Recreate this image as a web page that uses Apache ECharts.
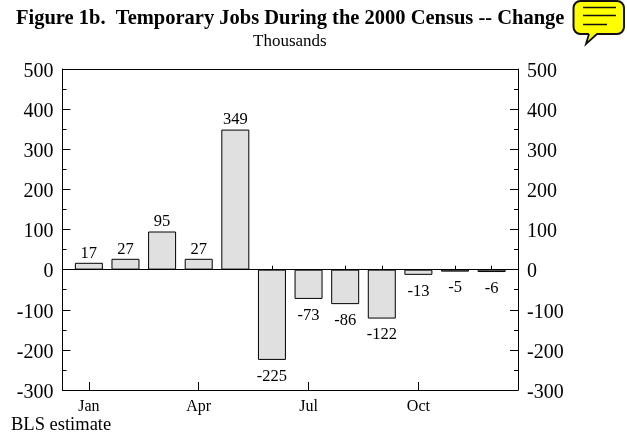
<!DOCTYPE html>
<html>
<head>
<meta charset="utf-8">
<script src="https://cdn.jsdelivr.net/npm/echarts@6/dist/echarts.min.js"></script>
<style>
html,body{margin:0;padding:0;background:#fff;}
#chart{width:627px;height:435px;}
</style>
</head>
<body>
<div id="chart"></div>
<script>
const months = ['Jan','Feb','Mar','Apr','May','Jun','Jul','Aug','Sep','Oct','Nov','Dec'];
const changes = [17,27,95,27,349,-225,-73,-86,-122,-13,-5,-6];
const quarterTicks = [0,3,6,9];
const monthTicks = [1,2,4,5,7,8,10,11];

const serif = '"Liberation Serif","Times New Roman",serif';
const ink = '#000';

let chart = echarts.init(document.getElementById('chart'));

let yCommon = {
  type:'value', min:-300, max:500, interval:100,
  splitLine:{show:false},
  axisLine:{show:true, onZero:false, lineStyle:{color:ink, width:1}},
  axisTick:{show:true, inside:true, length:8, lineStyle:{color:ink, width:1}},
  minorTick:{show:true, splitNumber:2, length:4, lineStyle:{color:ink, width:1}},
  // the reference sets its tick labels slightly below the tick
  axisLabel:{fontFamily:serif, fontSize:20, color:ink, margin:9, verticalAlign:'top', lineHeight:5}
};

let option = {
  animation:false,
  backgroundColor:'#fff',
  grid:{left:62.5, right:109, top:69, bottom:45},
  title:[
    {text:'Figure 1b.  Temporary Jobs During the 2000 Census -- Change', left:11, top:3,
     textStyle:{fontFamily:serif, fontSize:20.5, fontWeight:'bold', color:ink}},
    {text:'Thousands', left:248, top:28,
     textStyle:{fontFamily:serif, fontSize:17, fontWeight:'normal', color:ink}},
    {text:'BLS estimate', left:6, top:411,
     textStyle:{fontFamily:serif, fontSize:18.5, fontWeight:'normal', color:ink}}
  ],
  xAxis:[
    {
      type:'value', min:-0.72, max:11.72, position:'bottom',
      splitLine:{show:false},
      axisLine:{show:true, onZero:false, lineStyle:{color:ink}},
      axisTick:{show:true, inside:true, length:8, customValues:quarterTicks, lineStyle:{color:ink}},
      axisLabel:{show:true, customValues:quarterTicks, fontFamily:serif, fontSize:16, color:ink, margin:9,
        formatter:v => months[v]}
    },
    {
      type:'value', min:-0.72, max:11.72, position:'bottom',
      splitLine:{show:false},
      axisLine:{show:false},
      axisTick:{show:true, inside:true, length:4, customValues:monthTicks, lineStyle:{color:ink}},
      axisLabel:{show:false}
    },
    {
      type:'value', min:-0.72, max:11.72, position:'top',
      splitLine:{show:false},
      axisLine:{show:true, onZero:false, lineStyle:{color:ink}},
      axisTick:{show:false},
      axisLabel:{show:false}
    }
  ],
  yAxis:[
    Object.assign({}, yCommon, {position:'left'}),
    Object.assign({}, yCommon, {position:'right'})
  ],
  series:[{
    type:'bar',
    barWidth:28,
    xAxisIndex:0,
    yAxisIndex:0,
    itemStyle:{color:'#e0e0e0', borderColor:ink, borderWidth:1},
    data:changes.map((v,i) => ({
      value:[i,v],
      label:{show:true, position:v<0?'bottom':'top', distance:v<0?8:1,
        fontFamily:serif, fontSize:16.5, color:ink, formatter:String(v)}
    })),
    markLine:{
      silent:true, symbol:'none', label:{show:false},
      lineStyle:{color:ink, width:1, type:'solid'},
      data:[{yAxis:0}]
    }
  }],
  graphic:[
    {type:'rect', shape:{x:573.5,y:1,width:50.5,height:33,r:7}, style:{fill:'#ffff00', stroke:'#111', lineWidth:2}},
    {type:'polygon', z:101, shape:{points:[[589,33],[597,33],[586,44]]}, style:{fill:'#ffff00'}},
    {type:'polyline', z:102, shape:{points:[[589,34],[586,44],[597,34]]}, style:{stroke:'#111', lineWidth:1.8, fill:'none'}},
    {type:'line', shape:{x1:583,y1:7.5,x2:616,y2:7.5}, style:{stroke:'#111', lineWidth:1.5}},
    {type:'line', shape:{x1:583,y1:15.5,x2:616,y2:15.5}, style:{stroke:'#111', lineWidth:1.5}},
    {type:'line', shape:{x1:583,y1:24.5,x2:607,y2:24.5}, style:{stroke:'#111', lineWidth:1.5}}
  ]
};

chart.setOption(option);
</script>
</body>
</html>
